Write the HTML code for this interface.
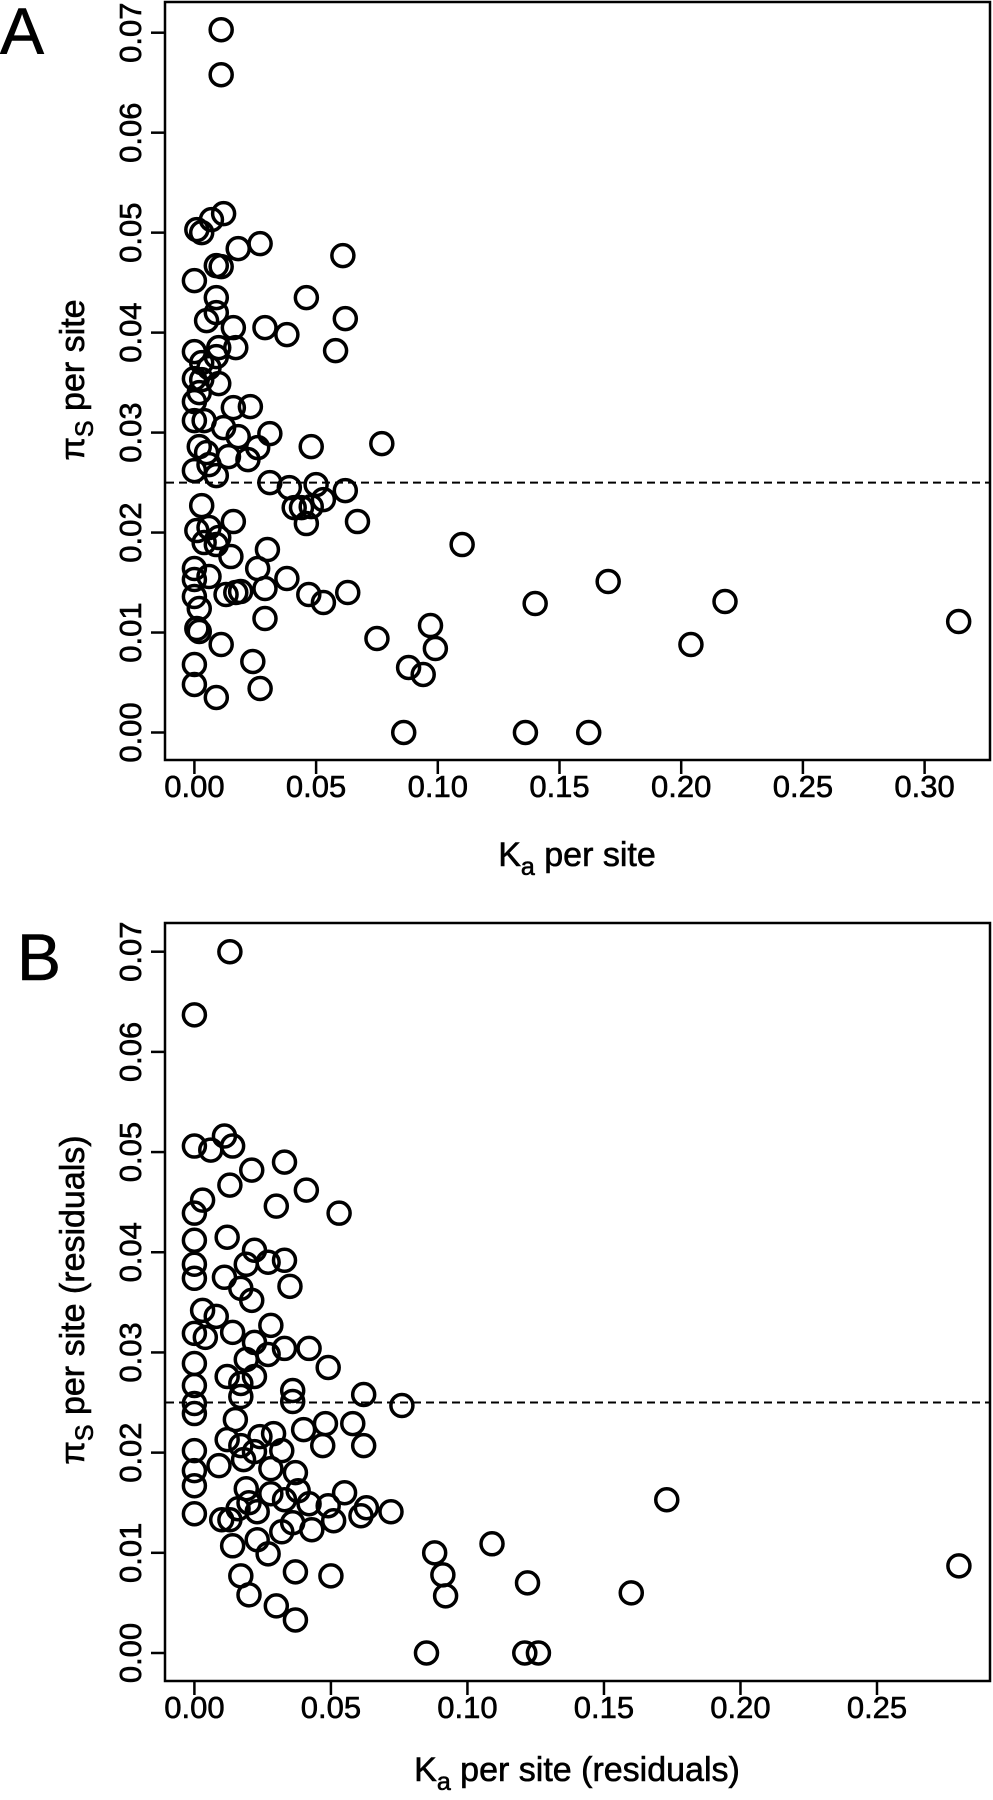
<!DOCTYPE html>
<html><head><meta charset="utf-8">
<style>
html,body{margin:0;padding:0;background:#fff;}
svg{display:block;font-family:"Liberation Sans",Arial,sans-serif;}
text{stroke:#000;stroke-width:0.6;}
</style></head>
<body>
<svg id="chart" width="993" height="1800" viewBox="0 0 993 1800" xmlns="http://www.w3.org/2000/svg"></svg>
<script>
// ---- Panel A data ----
const aKa = [0.011,0.011,0.001,0.003,0.007,0.012,0.018,0.027,0.011,0.009,0.061,0.000,0.046,0.009,0.009,0.005,0.062,0.016,0.029,0.038,0.017,0.010,0.058,0.000,0.009,0.003,0.006,0.000,0.003,0.010,0.000,0.016,0.023,0.000,0.004,0.012,0.031,0.018,0.048,0.077,0.002,0.026,0.014,0.022,0.006,0.000,0.009,0.031,0.039,0.050,0.062,0.053,0.041,0.048,0.003,0.046,0.067,0.016,0.001,0.006,0.010,0.004,0.009,0.110,0.030,0.015,0.026,0.000,0.170,0.038,0.000,0.006,0.029,0.019,0.013,0.047,0.063,0.000,0.053,0.140,0.218,0.002,0.029,0.314,0.097,0.001,0.002,0.075,0.099,0.011,0.204,0.024,0.000,0.088,0.094,0.000,0.027,0.009,0.086,0.136,0.162,0.005,0.002,0.017,0.044];
const aPi = [0.0703,0.0658,0.0503,0.0500,0.0513,0.0519,0.0484,0.0489,0.0466,0.0467,0.0477,0.0452,0.0435,0.0435,0.0420,0.0412,0.0414,0.0405,0.0405,0.0398,0.0385,0.0385,0.0382,0.0381,0.0376,0.0370,0.0365,0.0354,0.0353,0.0349,0.0331,0.0325,0.0326,0.0312,0.0312,0.0305,0.0299,0.0296,0.0286,0.0289,0.0286,0.0285,0.0276,0.0273,0.0268,0.0262,0.0257,0.0250,0.0245,0.0248,0.0242,0.0233,0.0225,0.0226,0.0227,0.0209,0.0211,0.0211,0.0202,0.0205,0.0195,0.0190,0.0188,0.0188,0.0183,0.0176,0.0164,0.0164,0.0151,0.0154,0.0153,0.0156,0.0144,0.0141,0.0138,0.0138,0.0140,0.0136,0.0130,0.0129,0.0131,0.0124,0.0114,0.0111,0.0107,0.0104,0.0101,0.0094,0.0084,0.0088,0.0088,0.0071,0.0068,0.0065,0.0058,0.0048,0.0044,0.0035,0.0000,0.0000,0.0000,0.0280,0.0340,0.0140,0.0225];
// ---- Panel B data ----
const bKa = [0.013,0.000,0.000,0.006,0.011,0.014,0.033,0.021,0.013,0.041,0.003,0.000,0.030,0.053,0.012,0.000,0.022,0.033,0.027,0.019,0.000,0.011,0.035,0.000,0.017,0.021,0.003,0.008,0.028,0.014,0.000,0.004,0.022,0.042,0.033,0.027,0.019,0.000,0.049,0.012,0.022,0.017,0.000,0.036,0.062,0.076,0.000,0.036,0.017,0.000,0.015,0.048,0.058,0.040,0.029,0.024,0.012,0.017,0.047,0.062,0.032,0.000,0.022,0.009,0.018,0.028,0.037,0.000,0.000,0.019,0.028,0.033,0.055,0.038,0.173,0.020,0.016,0.042,0.049,0.063,0.072,0.061,0.023,0.000,0.010,0.013,0.051,0.036,0.032,0.043,0.023,0.109,0.014,0.027,0.088,0.091,0.017,0.037,0.050,0.122,0.280,0.020,0.092,0.160,0.030,0.037,0.085,0.121,0.126];
const bPi = [0.0700,0.0637,0.0506,0.0502,0.0516,0.0506,0.0490,0.0482,0.0467,0.0462,0.0452,0.0439,0.0446,0.0439,0.0415,0.0412,0.0402,0.0392,0.0390,0.0388,0.0388,0.0375,0.0366,0.0374,0.0364,0.0352,0.0342,0.0336,0.0327,0.0320,0.0319,0.0315,0.0310,0.0304,0.0304,0.0298,0.0293,0.0289,0.0285,0.0276,0.0276,0.0269,0.0267,0.0262,0.0258,0.0247,0.0249,0.0251,0.0256,0.0239,0.0233,0.0229,0.0229,0.0223,0.0219,0.0216,0.0213,0.0207,0.0207,0.0207,0.0202,0.0202,0.0201,0.0187,0.0193,0.0184,0.0180,0.0182,0.0167,0.0164,0.0159,0.0153,0.0160,0.0162,0.0153,0.0150,0.0144,0.0149,0.0147,0.0145,0.0141,0.0137,0.0141,0.0139,0.0133,0.0133,0.0132,0.0130,0.0121,0.0123,0.0113,0.0109,0.0107,0.0099,0.0100,0.0078,0.0077,0.0081,0.0077,0.0070,0.0087,0.0058,0.0057,0.0060,0.0047,0.0033,0.0000,0.0000,0.0000];
const yTicks = [0,0.01,0.02,0.03,0.04,0.05,0.06,0.07];
const aXTicks = [0,0.05,0.10,0.15,0.20,0.25,0.30];
const bXTicks = [0,0.05,0.10,0.15,0.20,0.25];
const refLine = 0.025;

const NS = "http://www.w3.org/2000/svg";
const svg = document.getElementById('chart');
function mk(tag, attrs, parent){
  const e = document.createElementNS(NS, tag);
  for (const k in attrs) e.setAttribute(k, attrs[k]);
  (parent||svg).appendChild(e);
  return e;
}

function panel(cfg){
  const g = mk('g', {});
  
  
  const sx = v => cfg.x0 + (v - 0) * cfg.xs;
  const sy = v => cfg.y0 - v * cfg.ys;
  const box = mk('rect', {x:165, y:cfg.top, width:825, height:cfg.bottom-cfg.top, fill:'none', stroke:'#000', 'stroke-width':2.5}, g);
  
  
  cfg.yTicks.forEach(t => {
    const y = sy(t);
    const tk = mk('line', {x1:151, x2:165, y1:y, y2:y, stroke:'#000', 'stroke-width':2.5}, g);
    
    
    const lb = mk('text', {x:0, y:0, transform:`translate(141,${y}) rotate(-90)`, 'text-anchor':'middle', 'font-size':31, fill:'#000'}, g);
    
    
    lb.textContent = t.toFixed(2);
  });
  cfg.xTicks.forEach(t => {
    const x = sx(t);
    const tk = mk('line', {x1:x, x2:x, y1:cfg.bottom, y2:cfg.bottom+14, stroke:'#000', 'stroke-width':2.5}, g);
    
    
    const lb = mk('text', {x:x, y:cfg.bottom+37, 'text-anchor':'middle', 'font-size':31, fill:'#000'}, g);
    
    
    lb.textContent = t.toFixed(2);
  });
  const dl = mk('line', {x1:166, x2:989, y1:sy(refLine), y2:sy(refLine), stroke:'#000', 'stroke-width':2, 'stroke-dasharray':'8,5'}, g);
  
  
  cfg.xs_data.forEach((v,i) => {
    const c = mk('circle', {cx:sx(v), cy:sy(cfg.ys_data[i]), r:11, fill:'none', stroke:'#000', 'stroke-width':3.5}, g);
    
    
  });
  const xl = mk('text', {x:577, y:cfg.xlabY, 'text-anchor':'middle', 'font-size':34, fill:'#000'}, g);
  
  
  xl.innerHTML = 'K<tspan font-size="25" dy="9">a</tspan><tspan dy="-9"> ' + cfg.xlab + '</tspan>';
  const yl = mk('text', {x:0, y:0, transform:`translate(84,${cfg.ylabY}) rotate(-90)`, 'text-anchor':'middle', 'font-size':34, fill:'#000'}, g);
  
  
  yl.innerHTML = 'π<tspan font-size="25" dy="9">S</tspan><tspan dy="-9"> ' + cfg.ylab + '</tspan>';
  const pl = mk('text', {x:cfg.lx, y:cfg.ly, 'font-size':66, fill:'#000'}, g);
  
  
  pl.textContent = cfg.letter;
}

panel({name:'panel-a', x0:194.4, xs:(924.6-194.4)/0.30, y0:732.5, ys:(732.5-32.7)/0.07, top:2, bottom:760,
  yTicks:yTicks, xTicks:aXTicks, xs_data:aKa, ys_data:aPi, xlab:'per site', ylab:'per site',
  xlabY:866, ylabY:380, letter:'A', lx:0, ly:54});
panel({name:'panel-b', x0:194.4, xs:(877-194.4)/0.25, y0:1653, ys:(1653-951.7)/0.07, top:923, bottom:1681,
  yTicks:yTicks, xTicks:bXTicks, xs_data:bKa, ys_data:bPi, xlab:'per site (residuals)', ylab:'per site (residuals)',
  xlabY:1781, ylabY:1300, letter:'B', lx:17, ly:980});
</script>
</body></html>
